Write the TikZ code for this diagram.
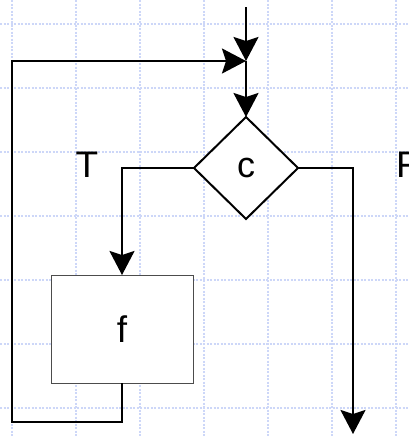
\documentclass[tikz,border=0pt]{standalone}
\usepackage{fontspec}
\setmainfont{Liberation Sans}
\usetikzlibrary{arrows.meta,shapes.geometric}
\definecolor{gridblue}{RGB}{205,215,248}

\begin{document}
\begin{tikzpicture}[x=1pt,y=-1pt,>={Stealth[length=24pt,width=25pt,inset=4pt]},arrow/.style={->,line width=2pt},gridline/.style={draw=gridblue,line width=1.5pt,dash pattern=on 2pt off 1.5pt},decision/.style={diamond,draw,line width=2pt,minimum width=104pt,minimum height=102pt,inner sep=0pt,outer sep=0pt,font=\fontsize{36}{40}\selectfont},process/.style={rectangle,draw=black!70,line width=1pt,minimum width=142pt,minimum height=108pt,outer sep=0pt,font=\fontsize{37}{40}\selectfont},lbl/.style={font=\fontsize{37}{40}\selectfont}]
\useasboundingbox (0,0) rectangle (408,437);
\foreach \gx in {12,76,...,396} \draw[gridline] (\gx,0)--(\gx,437);
\foreach \gy in {24,88,...,408} \draw[gridline] (0,\gy)--(408,\gy);
\node[decision,fill=white] (cond) at (246,168) {c}; \node[process,fill=white] (body) at (122,329) {f};
\coordinate (start) at (246,7); \coordinate (merge) at (246,61); \coordinate (back) at (12,422); \coordinate (exit) at (353,434);
\node[lbl] (yes) at (87,165) {T}; \node[lbl,anchor=west,inner sep=0pt] (no) at (396,165) {F};
\draw[arrow] (start)--(merge); \draw[arrow] (merge)--(cond.north);
\draw[arrow] (cond.west)-|(body.north); \draw[arrow] (cond.east)-|(exit);
\draw[arrow] (body.south)|-(back)|-(merge);
\end{tikzpicture}
\end{document}
